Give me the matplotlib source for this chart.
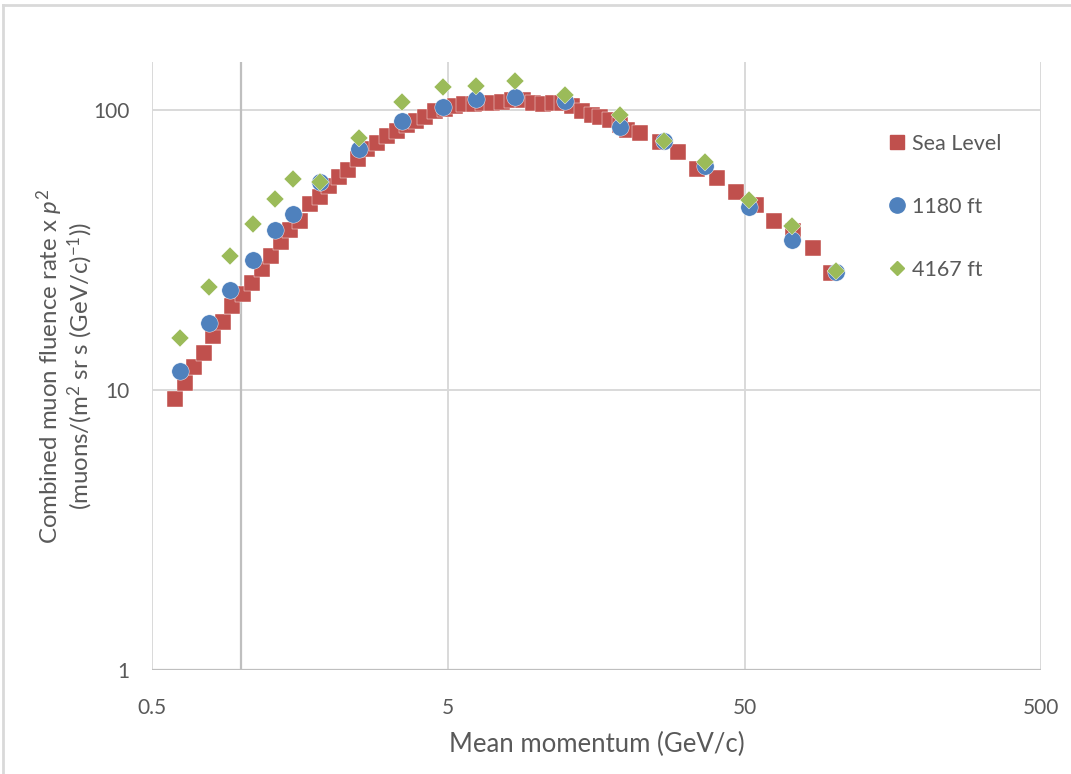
#!/usr/bin/env python3
"""
plot.py — combined muon fluence rate x p^2 vs mean momentum, three altitudes
"""

import sys

import matplotlib
matplotlib.use('Agg')
import matplotlib.pyplot as plt
from matplotlib.lines import Line2D

plt.rcParams['font.family'] = ['Lato', 'DejaVu Sans']
plt.rcParams['mathtext.fontset'] = 'custom'
plt.rcParams['mathtext.rm'] = 'Lato'
plt.rcParams['mathtext.it'] = 'Lato:italic'

# 海平面数据
SEA_LEVEL_P = [0.598, 0.646, 0.693, 0.750, 0.805, 0.870, 0.933, 1.011, 1.085, 1.173,
               1.260, 1.359, 1.461, 1.575, 1.703, 1.840, 1.982, 2.134, 2.299, 2.485,
               2.665, 2.880, 3.112, 3.348, 3.618, 3.890, 4.172, 4.510, 4.874, 5.27,
               5.65, 6.11, 6.55, 7.02, 7.59, 8.20, 8.94, 9.66, 10.44, 11.28,
               12.10, 13.08, 14.14, 15.28, 16.26, 17.57, 18.99, 20.05, 22.18, 25.8,
               29.9, 34.6, 40.3, 46.7, 54.6, 62.8, 73.0, 84.9, 97.6]
SEA_LEVEL_RATE = [9.29, 10.56, 12.11, 13.59, 15.59, 17.50, 19.84, 22.03, 24.05, 26.98,
                  29.93, 33.58, 37.12, 39.92, 45.89, 48.91, 53.22, 57.31, 61.05, 66.68,
                  72.56, 76.04, 80.27, 84.14, 88.41, 91.37, 94.18, 98.6, 100.6, 102.8,
                  104.6, 105.0, 105.5, 105.7, 106.5, 107.9, 107.9, 105.7, 104.8, 105.7,
                  105.7, 102.8, 98.6, 96.0, 94.2, 91.6, 88.4, 84.8, 82.6, 76.5,
                  70.4, 61.4, 57.0, 50.8, 45.7, 40.2, 36.8, 31.96, 26.1]

# 1180 ft / 4167 ft 共用同一组动量点
ALT_P = [0.62, 0.78, 0.92, 1.10, 1.30, 1.50, 1.84, 2.49, 3.50, 4.79,
         6.22, 8.40, 12.4, 18.95, 26.8, 36.8, 51.7, 72.4, 101.7]
RATE_1180 = [11.63, 17.39, 22.76, 29.13, 37.27, 42.41, 55.33, 72.56, 90.83, 102.2,
             109.6, 111.0, 107.1, 86.8, 77.5, 63.1, 44.9, 34.3, 26.3]
RATE_4167 = [15.30, 23.20, 30.10, 39.16, 47.99, 56.70, 55.19, 79.2, 106.2, 120.1,
             121.8, 126.9, 112.5, 96.0, 77.5, 65.1, 47.5, 38.3, 26.5]

X_TICKS = [0.5, 5, 50, 500]
X_TICK_LABELS = ['0.5', '5', '50', '500']
Y_TICKS = [1, 10, 100]
Y_TICK_LABELS = ['1', '10', '100']

SERIES_LABELS = ['Sea Level', '1180 ft', '4167 ft']
COLORS = ['#C0504D', '#4F81BD', '#9BBB59']

TEXT_COLOR = '#595959'
GRID_COLOR = '#D9D9D9'
AXIS_COLOR = '#BFBFBF'


def main():
    fig = plt.figure(figsize=(10.71, 7.74), dpi=100)
    ax = fig.add_axes([152 / 1071, 1 - 670 / 774, (1041 - 152) / 1071, (670 - 62) / 774])

    ax.set_xscale('log')
    ax.set_yscale('log')
    ax.set_xlim(0.5, 500)
    ax.set_ylim(1, 148)

    # 网格线
    for xv in X_TICKS:
        ax.axvline(xv, color=GRID_COLOR, lw=1.4, zorder=0)
    for yv in Y_TICKS[1:]:
        ax.axhline(yv, color=GRID_COLOR, lw=1.4, zorder=0)
    ax.axvline(1, color=AXIS_COLOR, lw=1.6, zorder=0)
    ax.axhline(1, color=AXIS_COLOR, lw=1.6, zorder=0)
    for s in ax.spines.values():
        s.set_visible(False)

    ax.plot(SEA_LEVEL_P, SEA_LEVEL_RATE, 's', color=COLORS[0], ms=11,
            mec='white', mew=0.3, zorder=3)
    ax.plot(ALT_P, RATE_1180, 'o', color=COLORS[1], ms=12.5,
            mec='white', mew=0.3, zorder=4)
    ax.plot(ALT_P, RATE_4167, 'D', color=COLORS[2], ms=9,
            mec='white', mew=0.3, zorder=5)

    ax.set_xticks(X_TICKS)
    ax.set_xticklabels(X_TICK_LABELS)
    ax.set_yticks(Y_TICKS)
    ax.set_yticklabels(Y_TICK_LABELS)
    ax.minorticks_off()
    ax.tick_params(axis='x', length=0, pad=20, labelsize=15, labelcolor=TEXT_COLOR)
    ax.tick_params(axis='y', length=0, pad=16, labelsize=15, labelcolor=TEXT_COLOR)

    ax.set_xlabel('Mean momentum (GeV/c)', fontsize=18.5, color=TEXT_COLOR)
    ax.xaxis.set_label_coords(0.5, -0.102)
    ax.set_ylabel('Combined muon fluence rate x $\\it{p}^{2}$\n'
                  '(muons/(m$^{2}$ sr s (GeV/c)$^{-1}$))',
                  fontsize=17.3, color=TEXT_COLOR, linespacing=1.05)
    ax.yaxis.set_label_coords(-0.064, 0.5)

    handles = [
        Line2D([], [], ls='none', marker='s', color=COLORS[0], ms=10),
        Line2D([], [], ls='none', marker='o', color=COLORS[1], ms=11),
        Line2D([], [], ls='none', marker='D', color=COLORS[2], ms=7),
    ]
    leg = ax.legend(handles, SERIES_LABELS, loc='upper left',
                    bbox_to_anchor=((880 - 152) / 889, (670 - 125) / 608),
                    frameon=False, fontsize=15.5, labelspacing=2.0,
                    handlelength=0.8, handletextpad=0.3, borderaxespad=0)
    for t in leg.get_texts():
        t.set_color(TEXT_COLOR)

    # 外框
    fig.add_artist(Line2D([3 / 1071, 1], [1 - 5 / 774, 1 - 5 / 774],
                          transform=fig.transFigure, color=GRID_COLOR, lw=2))
    fig.add_artist(Line2D([3 / 1071, 3 / 1071], [0, 1 - 5 / 774],
                          transform=fig.transFigure, color=GRID_COLOR, lw=2))

    fig.savefig('out.png', dpi=100)
    plt.close(fig)
    print('[OK] Saved: out.png', file=sys.stderr)


if __name__ == '__main__':
    main()
